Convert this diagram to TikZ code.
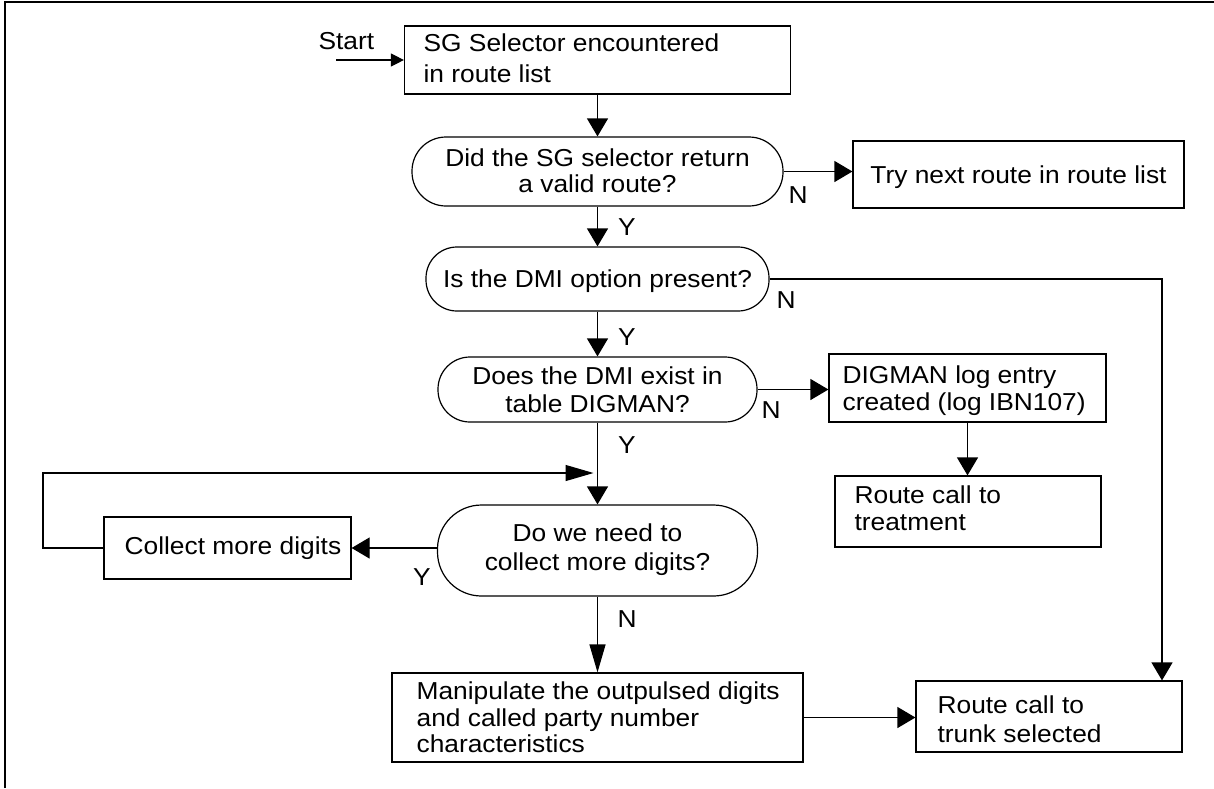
\documentclass[tikz,border=0pt]{standalone}
\usepackage{fontspec}
\setmainfont[FakeStretch=1.075]{Liberation Sans}
\usetikzlibrary{arrows.meta}
\newcommand\fsz[1]{\fontsize{24.5pt}{#1pt}\selectfont}
\newcommand\firstrule{\rule{0pt}{20pt}}
\begin{document}
\begin{tikzpicture}[x=1pt,y=-1pt,
  line width=1.2pt,
  arr/.style={-{Triangle[length=18pt,width=21pt]}},
  larr/.style={-{Triangle[length=28pt,width=16pt]}},
  sarr/.style={-{Triangle[length=13pt,width=13pt]}},
  box/.style={draw, inner sep=0pt},
  dec/.style={draw, inner sep=0pt},
  txt/.style={inner sep=0pt, font=\fsz{28}},
  lab/.style={inner sep=0pt, anchor=base, font=\fsz{28}}]
\useasboundingbox (0,0) rectangle (1214,788);
\draw[line width=1.6pt] (5,788) -- (5,2) -- (1214,2);

% shapes
\node[box, minimum width=386pt, minimum height=68pt] (b1) at (597.5,60) {};
\node[dec, minimum width=371pt, minimum height=69pt, rounded corners=34pt] (d1) at (597.5,171.5) {};
\node[box, minimum width=331pt, minimum height=67pt] (try) at (1018.5,174.5) {};
\node[dec, minimum width=343pt, minimum height=64pt, rounded corners=31pt] (d2) at (597.5,279) {};
\node[dec, minimum width=319pt, minimum height=65pt, rounded corners=32pt] (d3) at (597.5,389.5) {};
\node[box, minimum width=277pt, minimum height=68pt] (dg) at (967.5,388) {};
\node[box, minimum width=266pt, minimum height=71pt] (tm) at (968,511.5) {};
\node[dec, minimum width=320pt, minimum height=91pt, rounded corners=44pt] (d4) at (597.5,550.5) {};
\node[box, minimum width=247pt, minimum height=62pt] (cm) at (227.5,548) {};
\node[box, minimum width=411pt, minimum height=89pt] (mp) at (597.5,717.5) {};
\node[box, minimum width=266pt, minimum height=71pt] (tr) at (1049,716.5) {};

% texts
\node[txt, anchor=base west] (st) at (318,49) {Start};
\node[txt, align=left, anchor=north west, font=\fsz{31}] (b1t) at (423,31) {\firstrule SG Selector encountered\\in route list};
\node[txt, align=center, anchor=north, font=\fsz{26}] (d1t) at (597.5,146) {\firstrule Did the SG selector return\\a valid route?};
\node[txt, anchor=base] (tryt) at (1018.5,183) {Try next route in route list};
\node[txt, anchor=base] (d2t) at (597.5,287) {Is the DMI option present?};
\node[txt, align=center, anchor=north, font=\fsz{28}] (d3t) at (597.5,364) {\firstrule Does the DMI exist in\\table DIGMAN?};
\node[txt, align=left, anchor=north west, font=\fsz{27}] (dgt) at (842,363) {\firstrule DIGMAN log entry\\created (log IBN107)};
\node[txt, align=left, anchor=north west, font=\fsz{27}] (tmt) at (854,483) {\firstrule Route call to\\treatment};
\node[txt, align=center, anchor=north, font=\fsz{29}] (d4t) at (597.5,521) {\firstrule Do we need to\\collect more digits?};
\node[txt, anchor=base west] (cmt) at (124,554) {Collect more digits};
\node[txt, align=left, anchor=north west, font=\fsz{26.5}] (mpt) at (416,679) {\firstrule Manipulate the outpulsed digits\\and called party number\\characteristics};
\node[txt, align=left, anchor=north west, font=\fsz{29}] (trt) at (937,693) {\firstrule Route call to\\trunk selected};

% start
\coordinate (s0) at (336,60);
\draw[sarr] (s0) -- (b1.west);

% connectors
\draw[arr] (b1.south) -- (d1.north);
\draw[arr] (d1.east) -- (d1.east -| try.west);
\node[lab] (n1) at (798,203) {N};
\draw[arr] (d1.south) -- (d2.north);
\node[lab] (y1) at (627,235) {Y};
\coordinate (c1) at (1162,279);
\draw[arr] (d2.east) -- (c1) -- (c1 |- tr.north);
\node[lab] (n2) at (786,308) {N};
\draw[arr] (d2.south) -- (d3.north);
\node[lab] (y2) at (627,345) {Y};
\draw[arr] (d3.east) -- (d3.east -| dg.west);
\node[lab] (n3) at (771,418) {N};
\draw[arr] (dg.south) -- (dg.south |- tm.north);
\draw[arr] (d3.south) -- (d4.north);
\node[lab] (y3) at (627,453) {Y};
\coordinate (c2) at (43,473);
\draw[larr, shorten >=4pt] (cm.west) -- (cm.west -| c2) -- (c2) -- (c2 -| d4.north);
\draw[arr] (cm.east -| d4.west) -- (cm.east);
\node[lab] (y4) at (422,585) {Y};
\draw[larr] (d4.south) -- (mp.north);
\node[lab] (n4) at (627,627) {N};
\draw[arr] (mp.east) -- (mp.east -| tr.west);
\end{tikzpicture}
\end{document}
